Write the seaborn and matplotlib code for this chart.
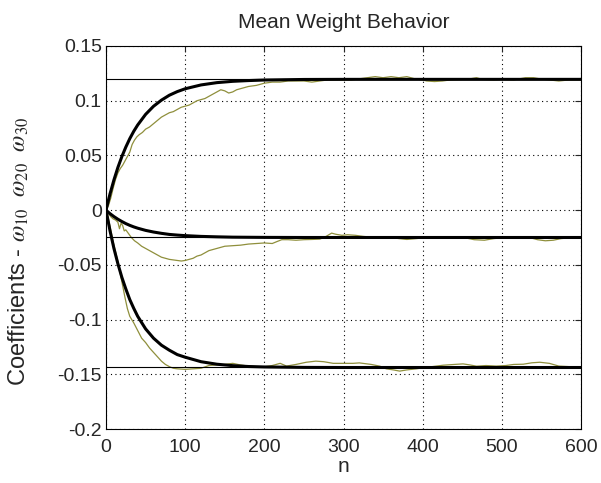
import numpy as np
import pandas as pd
import matplotlib
matplotlib.use("Agg")
import matplotlib.pyplot as plt
import seaborn as sns

# optimal (Wiener) weights -> thin reference lines
w_opt = [0.1195, -0.025, -0.1438]

# theoretical mean weight curves (thick black)
n_mean = [0, 5, 10, 15, 20, 25, 30, 35, 40, 50, 60, 70, 80, 90, 100,
          120, 140, 160, 180, 200, 250, 300, 400, 500, 600]
w10_mean = [0, 0.0147, 0.0276, 0.039, 0.0489, 0.0576, 0.0653, 0.072, 0.0778,
            0.0875, 0.0949, 0.1005, 0.105, 0.1083, 0.1109, 0.1144, 0.1165,
            0.1177, 0.1184, 0.1189, 0.1194, 0.1195, 0.1195, 0.1195, 0.1195]
w20_mean = [0, -0.0032, -0.0059, -0.0083, -0.0104, -0.0123, -0.0139, -0.0153,
            -0.0165, -0.0185, -0.02, -0.0212, -0.0222, -0.0228, -0.0233,
            -0.024, -0.0244, -0.0247, -0.0248, -0.0249, -0.025, -0.025,
            -0.025, -0.025, -0.025]
w30_mean = [0, -0.0187, -0.035, -0.049, -0.0614, -0.072, -0.0817, -0.0897,
            -0.097, -0.1085, -0.117, -0.1234, -0.128, -0.132, -0.1344,
            -0.1385, -0.1408, -0.1421, -0.1429, -0.1433, -0.1437, -0.1438,
            -0.1438, -0.1438, -0.1438]

# simulated LMS weights (olive, noisy)
n_w10 = [0, 3, 6, 9, 12, 15, 18, 21, 24, 27, 30, 33, 36, 39, 42, 46, 50, 55,
         60, 65, 70, 75, 80, 85, 90, 95, 100, 105, 110, 115, 120, 125, 130,
         135, 140, 145, 150, 155, 160, 165, 170, 175, 180, 190, 200, 210, 220,
         230, 240, 250, 260, 270, 280, 290, 300, 310, 320, 330, 340, 350, 360,
         370, 380, 390, 400, 405, 415, 425, 435, 450, 460, 468, 475, 490, 500,
         515, 530, 540, 548, 560, 572, 585, 600]
w10_lms = [0, 0.004, 0.011, 0.02, 0.028, 0.034, 0.038, 0.041, 0.045, 0.049,
           0.053, 0.06, 0.064, 0.067, 0.069, 0.071, 0.074, 0.076, 0.079, 0.082,
           0.085, 0.087, 0.089, 0.09, 0.092, 0.094, 0.095, 0.096, 0.098, 0.1,
           0.101, 0.102, 0.104, 0.106, 0.108, 0.11, 0.109, 0.107, 0.108, 0.11,
           0.111, 0.112, 0.113, 0.114, 0.116, 0.117, 0.117, 0.118, 0.118,
           0.118, 0.117, 0.118, 0.119, 0.119, 0.119, 0.119, 0.12, 0.121, 0.122,
           0.121, 0.122, 0.121, 0.122, 0.12, 0.119, 0.118, 0.1175, 0.118, 0.119,
           0.1195, 0.12, 0.121, 0.1195, 0.119, 0.1195, 0.119, 0.121, 0.121,
           0.12, 0.119, 0.118, 0.119, 0.119]

n_w20 = [0, 3, 6, 9, 12, 15, 17, 19, 21, 23, 25, 28, 32, 36, 40, 45, 50, 55,
         60, 65, 70, 75, 80, 85, 90, 95, 100, 105, 110, 115, 120, 125, 130,
         135, 140, 150, 160, 170, 180, 190, 200, 210, 215, 222, 230, 240, 250,
         260, 270, 278, 285, 290, 298, 305, 315, 325, 340, 355, 370, 380, 392,
         405, 420, 440, 455, 465, 478, 490, 505, 520, 535, 545, 555, 565, 575,
         590, 600]
w20_lms = [0, -0.003, -0.006, -0.008, -0.009, -0.011, -0.017, -0.012, -0.014,
           -0.019, -0.018, -0.021, -0.025, -0.028, -0.03, -0.033, -0.035,
           -0.037, -0.039, -0.041, -0.043, -0.044, -0.045, -0.0455, -0.046,
           -0.0465, -0.046, -0.045, -0.044, -0.042, -0.041, -0.039, -0.037,
           -0.036, -0.035, -0.033, -0.0325, -0.032, -0.031, -0.0305, -0.03,
           -0.0305, -0.029, -0.027, -0.027, -0.0275, -0.027, -0.0268, -0.0265,
           -0.024, -0.021, -0.022, -0.023, -0.0225, -0.023, -0.024, -0.025,
           -0.0245, -0.026, -0.0268, -0.026, -0.025, -0.0245, -0.025, -0.0255,
           -0.027, -0.0275, -0.026, -0.025, -0.0245, -0.025, -0.027, -0.028,
           -0.0275, -0.026, -0.025, -0.025]

n_w30 = [0, 3, 6, 9, 12, 15, 18, 21, 24, 27, 30, 35, 40, 45, 50, 55, 60, 65,
         70, 75, 80, 85, 90, 100, 110, 120, 130, 140, 150, 160, 170, 180, 190,
         200, 210, 220, 228, 240, 253, 265, 275, 287, 300, 312, 320, 335, 346,
         354, 363, 371, 380, 392, 401, 412, 426, 440, 451, 460, 468, 480, 493,
         505, 515, 527, 538, 548, 560, 572, 585, 600]
w30_lms = [0, -0.008, -0.018, -0.029, -0.038, -0.047, -0.058, -0.069, -0.08,
           -0.09, -0.097, -0.103, -0.11, -0.117, -0.121, -0.126, -0.13, -0.134,
           -0.138, -0.141, -0.143, -0.1445, -0.145, -0.1455, -0.145, -0.1445,
           -0.142, -0.1415, -0.141, -0.14, -0.1415, -0.1425, -0.143, -0.1432,
           -0.142, -0.14, -0.1425, -0.141, -0.139, -0.138, -0.1385, -0.14,
           -0.14, -0.14, -0.1396, -0.141, -0.1426, -0.145, -0.146, -0.1471,
           -0.146, -0.145, -0.144, -0.143, -0.1417, -0.141, -0.1405, -0.1415,
           -0.1426, -0.142, -0.1425, -0.142, -0.141, -0.1408, -0.1395, -0.139,
           -0.14, -0.1425, -0.143, -0.1435]

sns.set_style("white")
plt.rcParams["font.family"] = ["Liberation Sans", "DejaVu Sans"]
plt.rcParams["mathtext.fontset"] = "stix"

fig = plt.figure(figsize=(6.01, 4.83), dpi=100)
ax = fig.add_axes([0.1764, 0.1118, 0.7903, 0.793])

olive = "#8f8f3c"
for n, w in [(n_w10, w10_lms), (n_w20, w20_lms), (n_w30, w30_lms)]:
    sns.lineplot(x=n, y=w, ax=ax, color=olive, lw=0.9)

for w in w_opt:
    ax.axhline(w, color="black", lw=0.8)

for w in [w10_mean, w20_mean, w30_mean]:
    sns.lineplot(x=n_mean, y=w, ax=ax, color="black", lw=2.2)

ax.set_xlim(0, 600)
ax.set_ylim(-0.2, 0.15)
ax.set_xticks(np.arange(0, 601, 100))
ax.set_yticks(np.arange(-0.2, 0.151, 0.05))
ax.set_yticklabels(["-0.2", "-0.15", "-0.1", "-0.05", "0", "0.05", "0.1", "0.15"])
ax.grid(True, ls=(0, (1, 3)), color="black", lw=0.8)
ax.tick_params(direction="in", top=True, right=True, labelsize=14, length=4, pad=3)
ax.tick_params(axis="x", pad=7)
for s in ax.spines.values():
    s.set_color("black")
    s.set_linewidth(0.8)

ax.set_title("Mean Weight Behavior", fontsize=15, pad=13)
ax.set_xlabel("n", fontsize=15, labelpad=1)
ax.set_ylabel(r"Coefficients - $\omega_{10}\ \ \omega_{20}\ \ \omega_{30}$", fontsize=17)
ax.yaxis.set_label_coords(-0.158, 0.465)

plt.savefig("out.png", dpi=100)
